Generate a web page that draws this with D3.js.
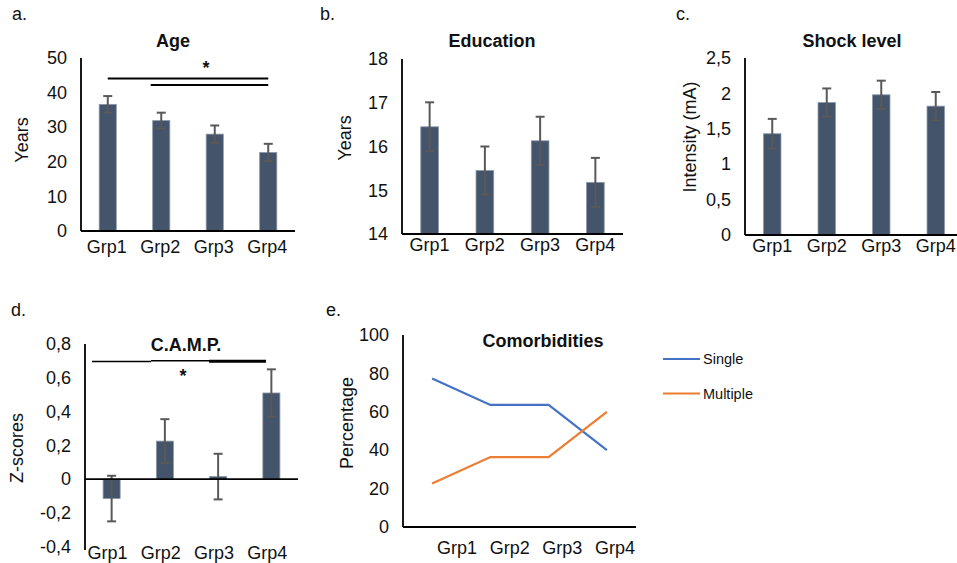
<!DOCTYPE html>
<html><head><meta charset="utf-8">
<script src="https://cdn.jsdelivr.net/npm/d3@7"></script>
<style>body{margin:0;background:#fff}svg{display:block;font-family:"Liberation Sans",Arial,sans-serif}</style>
</head><body><svg id="c" width="957" height="563"></svg>
<script>
const groups = ["Grp1","Grp2","Grp3","Grp4"];
const ageMean = [36.6, 31.9, 28.0, 22.7];
const ageErr = [2.4, 2.3, 2.5, 2.5];
const ageTicks = [0,10,20,30,40,50];
const eduMean = [16.45, 15.45, 16.13, 15.18];
const eduErr = [0.56, 0.55, 0.55, 0.56];
const eduTicks = [14,15,16,17,18];
const shockMean = [1.43, 1.87, 1.98, 1.82];
const shockErr = [0.21, 0.2, 0.2, 0.2];
const shockTicks = [0,0.5,1,1.5,2,2.5];
const campMean = [-0.115, 0.225, 0.015, 0.51];
const campErr = [0.135, 0.13, 0.135, 0.14];
const campTicks = [-0.4,-0.2,0,0.2,0.4,0.6,0.8];
const singlePct = [77.3, 63.6, 63.6, 40];
const multiplePct = [22.7, 36.4, 36.4, 60];
const pctTicks = [0,20,40,60,80,100];

const svg = d3.select("#c");
const BAR = "#44546A", ERR = "#595959", TXT = "#111";
const fmtComma = d => String(d).replace(".", ",");

function text(g, x, y, s, opts = {}) {
  return g.append("text").attr("x", x).attr("y", y).text(s)
    .attr("font-size", opts.size || 18).attr("font-weight", opts.bold ? "bold" : null)
    .attr("fill", opts.fill || TXT).attr("text-anchor", opts.anchor || "middle")
    .attr("dominant-baseline", "central")
    .attr("transform", opts.rotate ? `rotate(-90,${x},${y})` : null);
}

function barPanel(cfg) {
  const x = d3.scaleBand().domain(groups).range([cfg.x0, cfg.x1]).paddingInner(0.68).paddingOuter(0.34);
  const y = d3.scaleLinear().domain(cfg.domain).range([cfg.yb, cfg.yt]);
  const g = svg.append("g");
  const ax = g.append("g").attr("transform", `translate(${cfg.x0},0)`)
    .call(d3.axisLeft(y).tickValues(cfg.ticks).tickSize(0).tickPadding(cfg.tickPad || 14).tickFormat(cfg.fmt || (d => d)));
  ax.select(".domain").remove();
  ax.selectAll("text").attr("font-size", 18).attr("fill", TXT).attr("font-family", "Liberation Sans, Arial");
  const base = cfg.base !== undefined ? cfg.base : cfg.domain[0];
  g.selectAll("rect.bar").data(cfg.mean).join("rect").attr("class", "bar")
    .attr("x", (d, i) => x(groups[i])).attr("width", x.bandwidth())
    .attr("y", d => y(Math.max(d, base))).attr("height", d => Math.abs(y(d) - y(base)))
    .attr("fill", BAR).attr("stroke", "#8a97a8").attr("stroke-width", 0.8);
  const cx = i => x(groups[i]) + x.bandwidth() / 2;
  const eg = g.selectAll("g.err").data(cfg.mean).join("g").attr("class", "err");
  eg.append("line").attr("x1", (d, i) => cx(i)).attr("x2", (d, i) => cx(i))
    .attr("y1", (d, i) => y(d - cfg.err[i])).attr("y2", (d, i) => y(d + cfg.err[i]));
  eg.append("line").attr("x1", (d, i) => cx(i) - 4.5).attr("x2", (d, i) => cx(i) + 4.5)
    .attr("y1", (d, i) => y(d + cfg.err[i])).attr("y2", (d, i) => y(d + cfg.err[i]));
  eg.append("line").attr("x1", (d, i) => cx(i) - 4.5).attr("x2", (d, i) => cx(i) + 4.5)
    .attr("y1", (d, i) => y(d - cfg.err[i])).attr("y2", (d, i) => y(d - cfg.err[i]));
  eg.selectAll("line").attr("stroke", ERR).attr("stroke-width", 2);
  g.append("line").attr("x1", cfg.x0).attr("x2", cfg.x0).attr("y1", cfg.yt).attr("y2", cfg.yAxisBottom || cfg.yb).attr("stroke", "#000").attr("stroke-width", 1.8);
  g.append("line").attr("x1", cfg.x0).attr("x2", cfg.x1).attr("y1", y(base)).attr("y2", y(base)).attr("stroke", "#000").attr("stroke-width", 1.8);
  groups.forEach((d, i) => text(g, cx(i) + (cfg.lblDx || 0), cfg.lblY, d));
  text(g, cfg.titleX, cfg.titleY, cfg.title, {bold: true});
  text(g, cfg.ylabX, cfg.ylabY, cfg.ylab, {rotate: true});
  text(g, cfg.letterX, cfg.letterY, cfg.letter, {anchor: "start"});
  return {g, x, y};
}

// a. Age
const A = barPanel({x0: 81, x1: 295, yt: 58, yb: 231, domain: [0, 50], ticks: ageTicks, mean: ageMean, err: ageErr,
  lblY: 247, lblDx: -1, title: "Age", titleX: 173, titleY: 41, ylab: "Years", ylabX: 22, ylabY: 140, letter: "a.", letterX: 12, letterY: 14});
A.g.append("line").attr("x1", A.x("Grp1") + A.x.bandwidth() / 2).attr("x2", A.x("Grp4") + A.x.bandwidth() / 2)
  .attr("y1", 78.5).attr("y2", 78.5).attr("stroke", "#000").attr("stroke-width", 1.8);
A.g.append("line").attr("x1", A.x("Grp2") - 2).attr("x2", A.x("Grp4") + A.x.bandwidth() / 2)
  .attr("y1", 85).attr("y2", 85).attr("stroke", "#000").attr("stroke-width", 1.8);
text(A.g, 206, 68, "*", {bold: true, size: 18});

// b. Education
barPanel({x0: 402, x1: 623, yt: 59, yb: 234, domain: [14, 18], ticks: eduTicks, mean: eduMean, err: eduErr,
  lblY: 245, title: "Education", titleX: 492, titleY: 41, ylab: "Years", ylabX: 345, ylabY: 138, letter: "b.", letterX: 320, letterY: 14});

// c. Shock level
barPanel({x0: 745, x1: 963, yt: 58, yb: 235, domain: [0, 2.5], ticks: shockTicks, mean: shockMean, err: shockErr, fmt: fmtComma,
  lblY: 246, title: "Shock level", titleX: 852, titleY: 41, ylab: "Intensity (mA)", ylabX: 690, ylabY: 137, letter: "c.", letterX: 676, letterY: 14});

// d. C.A.M.P.
const D = barPanel({x0: 85, x1: 298, yt: 344, yb: 546.7, yAxisBottom: 550, domain: [-0.4, 0.8], base: 0, ticks: campTicks, mean: campMean, err: campErr, fmt: fmtComma,
  lblY: 553, lblDx: -4, title: "C.A.M.P.", titleX: 186, titleY: 345, ylab: "Z-scores", ylabX: 17, ylabY: 448, letter: "d.", letterX: 11, letterY: 310});
D.g.append("line").attr("x1", 92).attr("x2", 151).attr("y1", 361.5).attr("y2", 361.5).attr("stroke", "#000").attr("stroke-width", 1.5);
D.g.append("line").attr("x1", 151).attr("x2", 209).attr("y1", 360.8).attr("y2", 360.8).attr("stroke", "#000").attr("stroke-width", 1.5);
D.g.append("line").attr("x1", 209).attr("x2", 266).attr("y1", 361.3).attr("y2", 361.3).attr("stroke", "#000").attr("stroke-width", 3);
text(D.g, 183, 376, "*", {bold: true, size: 18});

// e. Comorbidities
(function () {
  const g = svg.append("g");
  const x0 = 403, x1 = 636, yt = 335, yb = 527;
  const xb = d3.scaleBand().domain(groups).range([x0, x1]);
  const xl = d3.scalePoint().domain(groups).range([457, 615]);
  const y = d3.scaleLinear().domain([0, 100]).range([yb, yt]);
  const ax = g.append("g").attr("transform", `translate(${x0},0)`)
    .call(d3.axisLeft(y).tickValues(pctTicks).tickSize(0).tickPadding(14));
  ax.select(".domain").remove();
  ax.selectAll("text").attr("font-size", 18).attr("fill", TXT).attr("font-family", "Liberation Sans, Arial");
  g.append("line").attr("x1", x0).attr("x2", x0).attr("y1", yt).attr("y2", yb).attr("stroke", "#000").attr("stroke-width", 1.8);
  g.append("line").attr("x1", x0).attr("x2", x1).attr("y1", yb).attr("y2", yb).attr("stroke", "#000").attr("stroke-width", 1.8);
  const line = d3.line().x((d, i) => xb(groups[i]) + xb.bandwidth() / 2).y(d => y(d));
  g.append("path").attr("d", line(singlePct)).attr("fill", "none").attr("stroke", "#4472C4").attr("stroke-width", 2.2);
  g.append("path").attr("d", line(multiplePct)).attr("fill", "none").attr("stroke", "#ED7D31").attr("stroke-width", 2.2);
  groups.forEach(d => text(g, xl(d), 548, d));
  text(g, 543, 341, "Comorbidities", {bold: true});
  text(g, 347, 423, "Percentage", {rotate: true});
  text(g, 326, 310, "e.", {anchor: "start"});
  const leg = [["Single", "#4472C4"], ["Multiple", "#ED7D31"]];
  leg.forEach(([name, col], i) => {
    const ly = 359 + i * 34.5;
    g.append("line").attr("x1", 663).attr("x2", 700).attr("y1", ly).attr("y2", ly).attr("stroke", col).attr("stroke-width", 2.2);
    text(g, 703, ly, name, {anchor: "start", size: 14.5});
  });
})();
</script></body></html>
